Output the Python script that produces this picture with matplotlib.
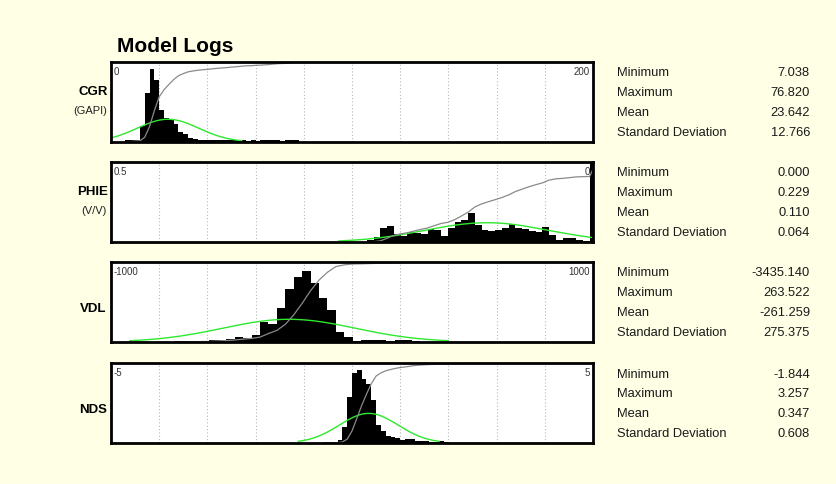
import numpy as np
import matplotlib
matplotlib.use("Agg")
import matplotlib.pyplot as plt

plt.rcParams['font.family'] = ['Liberation Sans', 'DejaVu Sans']

# log names, units and the scale shown at the panel corners
logs = ["CGR", "PHIE", "VDL", "NDS"]
units = ["(GAPI)", "(V/V)", "", ""]
scale_left = [0, 0.5, -1000, -5]
scale_right = [200, 0, 1000, 5]

# histogram bins: first left edge and bin width per log
bin_start = [6, -0.0035, -732, -0.6]
bin_width = [2, 0.007, 35, 0.1]

# bin frequencies (% of panel height)
cgr_freq = [2, 3, 2, 20, 61, 91, 78, 40, 30, 28, 22, 12, 10, 5, 4, 3, 2, 3,
            3, 2, 2, 3, 2, 3, 2, 1, 2, 1, 2, 2, 3, 2, 1, 3, 2, 3]
phie_freq = [100, 1, 2, 5, 5, 3, 9, 19, 13, 14, 16, 17, 23, 18, 15, 14, 15,
             21, 36, 27, 25, 18, 8, 15, 16, 10, 11, 12, 8, 10, 20, 18, 6, 2]
vdl_freq = [1, 1, 1, 1, 3, 3, 4, 6, 5, 9, 25, 22, 42, 66, 81, 89, 74, 55,
            40, 12, 6, 1, 2, 2, 2, 1, 2, 3, 1]
nds_freq = [1, 1, 1, 4, 20, 58, 88, 91, 80, 74, 54, 22, 15, 9, 8, 6, 4, 5,
            5, 3, 2, 2, 1, 1, 3, 1, 0.5, 0.5, 0.5, 0.5, 0.5, 0.3, 0.3, 0.3,
            0.3, 0.3, 0.3, 0.3, 0.3]
freqs = [cgr_freq, phie_freq, vdl_freq, nds_freq]

# summary statistics
stat_names = ["Minimum", "Maximum", "Mean", "Standard Deviation"]
cgr_stats = [7.038, 76.820, 23.642, 12.766]
phie_stats = [0.000, 0.229, 0.110, 0.064]
vdl_stats = [-3435.140, 263.522, -261.259, 275.375]
nds_stats = [-1.844, 3.257, 0.347, 0.608]
stats = [cgr_stats, phie_stats, vdl_stats, nds_stats]

W, H = 836, 485
fig = plt.figure(figsize=(W / 100, H / 100), dpi=100)
fig.patch.set_facecolor('#ffffe6')


def fx(px):
    return px / W


def fy(py):
    return 1 - py / H


fig.text(fx(117), fy(46), "Model Logs", fontsize=15, fontweight='bold',
         ha='left', va='center')

panel_tops = [63, 163, 263, 364]
panel_h = 80

for i, name in enumerate(logs):
    top = panel_tops[i]
    ax = fig.add_axes([fx(111), fy(top + panel_h), 482 / W, panel_h / H])
    ax.set_facecolor('white')
    lo, hi = scale_left[i], scale_right[i]
    ax.set_xlim(lo, hi)
    ax.set_ylim(0, 100)

    ax.set_xticks(np.linspace(lo, hi, 11)[1:-1])
    ax.set_yticks([])
    ax.tick_params(length=0, labelbottom=False)
    ax.grid(axis='x', linestyle=(0, (1, 2)), color='#b8b8b8', linewidth=0.8)
    ax.set_axisbelow(True)
    for sp in ax.spines.values():
        sp.set_linewidth(2)
        sp.set_color('black')
        sp.set_zorder(10)

    f = np.array(freqs[i], dtype=float)
    w = bin_width[i]
    edges = bin_start[i] + w * np.arange(len(f) + 1)
    ax.bar(edges[:-1], f, width=w, align='edge', color='black', linewidth=0,
           zorder=2)

    # normal curve from the stated mean / standard deviation
    mean, sd = stats[i][2], stats[i][3]
    total = f.sum()
    xs = np.linspace(mean - 2.4 * sd, mean + 2.4 * sd, 300)
    pdf = np.exp(-0.5 * ((xs - mean) / sd) ** 2) / (sd * np.sqrt(2 * np.pi))
    ax.plot(xs, total * w * pdf, color='#2ee82e', linewidth=1, zorder=4)

    # cumulative curve, running left to right across the panel
    if hi > lo:
        cx = edges
        cy = np.concatenate([[0], np.cumsum(f)])
    else:
        cx = edges[::-1]
        cy = np.concatenate([[0], np.cumsum(f[::-1])])
    cx = np.append(cx, hi)
    cy = np.append(cy, total)
    ax.plot(cx, cy / total * 100, color='#8a8a8a', linewidth=0.9, zorder=5)

    ax.text(0.006, 0.95, f"{lo:g}", transform=ax.transAxes, fontsize=7,
            ha='left', va='top', color='#333333', zorder=12)
    ax.text(0.994, 0.95, f"{hi:g}", transform=ax.transAxes, fontsize=7,
            ha='right', va='top', color='#333333', zorder=12)

    # log name and unit on the left
    if units[i]:
        fig.text(fx(93), fy(top + 29), name, fontsize=9.5, fontweight='bold',
                 ha='center', va='center')
        fig.text(fx(107), fy(top + 48), units[i], fontsize=8,
                 ha='right', va='center', color='#222222')
    else:
        fig.text(fx(93), fy(top + 46), name, fontsize=9.5, fontweight='bold',
                 ha='center', va='center')

    # statistics table on the right
    for j, label in enumerate(stat_names):
        y = top + 10.5 + 19.8 * j
        fig.text(fx(617), fy(y), label, fontsize=9.3, ha='left',
                 va='center', color='#1a1a1a')
        fig.text(fx(810), fy(y), f"{stats[i][j]:.3f}", fontsize=9.3,
                 ha='right', va='center', color='#1a1a1a')

fig.savefig("out.png", dpi=100, facecolor=fig.get_facecolor())
